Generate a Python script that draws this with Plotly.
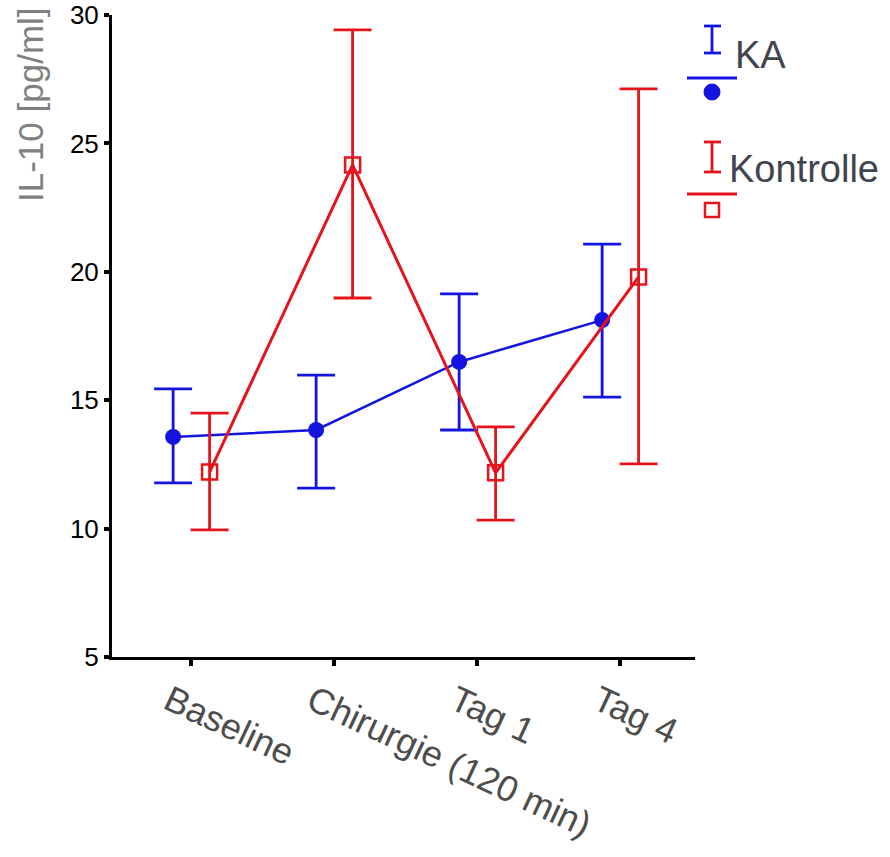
import plotly.graph_objects as go

# ---- data ----
categories = ["Baseline", "Chirurgie (120 min)", "Tag 1", "Tag 4"]
cat_pos = [0, 1, 2, 3]

ka_mean = [13.57, 13.84, 16.49, 18.12]
ka_upper = [15.44, 15.98, 19.14, 21.08]
ka_lower = [11.78, 11.58, 13.84, 15.12]

kon_mean = [12.20, 24.16, 12.17, 19.80]
kon_upper = [14.50, 29.42, 13.96, 27.12]
kon_lower = [9.95, 18.98, 10.33, 12.52]

y_ticks = [5, 10, 15, 20, 25, 30]

BLUE = "#1414e0"
RED = "#e5141c"
LEG_TXT = "#41434f"

# ---- layout geometry (pixels) ----
W, H = 890, 857
L, R, T, B = 112, 695, 15, 657
x_left = (L - 191) / 143
x_right = (R - 191) / 143


def px(x):
    return (x - L) / (R - L)


def py(y):
    return (B - y) / (B - T)


ka_x = [c - 0.125 for c in cat_pos]
kon_x = [c + 0.13 for c in cat_pos]

fig = go.Figure()

fig.add_trace(go.Scatter(
    x=ka_x, y=ka_mean, mode="lines+markers", name="KA",
    line=dict(color=BLUE, width=2.5),
    marker=dict(symbol="circle", size=16, color=BLUE),
    error_y=dict(type="data", symmetric=False,
                 array=[u - m for u, m in zip(ka_upper, ka_mean)],
                 arrayminus=[m - l for m, l in zip(ka_mean, ka_lower)],
                 color=BLUE, thickness=2.8, width=19),
    showlegend=False,
))

fig.add_trace(go.Scatter(
    x=kon_x, y=kon_mean, mode="lines+markers", name="Kontrolle",
    line=dict(color=RED, width=3),
    marker=dict(symbol="square-open", size=15, color=RED, line=dict(width=2.5, color=RED)),
    error_y=dict(type="data", symmetric=False,
                 array=[u - m for u, m in zip(kon_upper, kon_mean)],
                 arrayminus=[m - l for m, l in zip(kon_mean, kon_lower)],
                 color=RED, thickness=2.8, width=19),
    showlegend=False,
))

# ---- custom legend ----
shapes = []
annotations = []


def legend_entry(color, err_top, err_bot, line_y, mk_y, filled, label, label_x, label_y):
    xc = 712
    shapes.append(dict(type="line", xref="paper", yref="paper",
                       x0=px(xc), x1=px(xc), y0=py(err_top), y1=py(err_bot),
                       line=dict(color=color, width=2.8)))
    for yy in (err_top, err_bot):
        shapes.append(dict(type="line", xref="paper", yref="paper",
                           x0=px(xc - 8), x1=px(xc + 9), y0=py(yy), y1=py(yy),
                           line=dict(color=color, width=2.8)))
    shapes.append(dict(type="line", xref="paper", yref="paper",
                       x0=px(687), x1=px(737), y0=py(line_y), y1=py(line_y),
                       line=dict(color=color, width=2.8)))
    if filled:
        shapes.append(dict(type="circle", xref="paper", yref="paper",
                           x0=px(xc - 8), x1=px(xc + 8), y0=py(mk_y - 8), y1=py(mk_y + 8),
                           fillcolor=color, line=dict(color=color, width=1)))
    else:
        shapes.append(dict(type="rect", xref="paper", yref="paper",
                           x0=px(xc - 7), x1=px(xc + 7), y0=py(mk_y - 7), y1=py(mk_y + 7),
                           line=dict(color=color, width=2.5)))
    annotations.append(dict(text=label, xref="paper", yref="paper",
                            x=px(label_x), y=py(label_y), xanchor="left", yanchor="middle",
                            showarrow=False,
                            font=dict(family="Liberation Sans, Arial", size=38, color=LEG_TXT)))


legend_entry(BLUE, 26, 53, 78, 92, True, "KA", 733, 55)
legend_entry(RED, 142, 172, 194, 210, False, "Kontrolle", 727, 169)

# y axis title as annotation (positioned near top like reference)
annotations.append(dict(text="IL-10 [pg/ml]", xref="paper", yref="paper",
                        x=px(30), y=py(105), xanchor="center", yanchor="middle",
                        textangle=-90, showarrow=False,
                        font=dict(family="Liberation Sans, Arial", size=35, color="#808080")))

fig.update_layout(
    width=W, height=H,
    margin=dict(l=L, r=W - R, t=T, b=H - B, pad=0, autoexpand=False),
    plot_bgcolor="white", paper_bgcolor="white",
    shapes=shapes, annotations=annotations,
    xaxis=dict(range=[x_left, x_right], tickvals=cat_pos, ticktext=categories,
               tickangle=25, showgrid=False, zeroline=False, automargin=False,
               showline=True, linecolor="black", linewidth=3,
               ticks="outside", ticklen=6, tickwidth=4, tickcolor="black",
               ticklabelshift=-22, ticklabelstandoff=0,
               tickfont=dict(family="Liberation Sans, Arial", size=36, color="#4d4d4d")),
    yaxis=dict(range=[5, 30], tickvals=y_ticks, showgrid=False, zeroline=False, automargin=False,
               showline=True, linecolor="black", linewidth=3,
               ticks="outside", ticklen=5, tickwidth=4, tickcolor="black",
               ticklabelstandoff=0,
               tickfont=dict(family="Liberation Sans, Arial", size=26, color="black")),
)

fig.write_html("out.html")
